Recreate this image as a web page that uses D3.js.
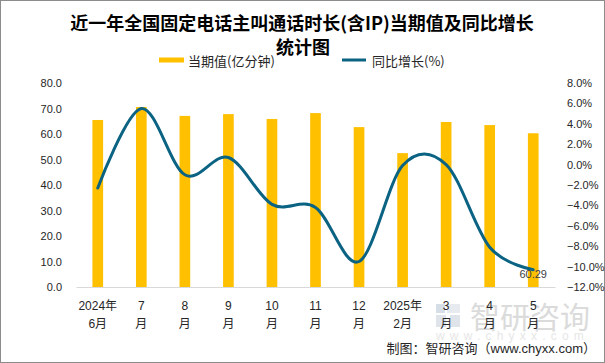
<!DOCTYPE html>
<html>
<head>
<meta charset="utf-8">
<script src="https://cdn.jsdelivr.net/npm/d3@7"></script>
<style>
  body { margin: 0; background: #fff; }
  svg text { font-family: "Liberation Sans", Arial, "Noto Sans CJK SC", sans-serif; }
</style>
</head>
<body>
<div id="chart"></div>
<script>
  const categories = ["2024年6月", "7月", "8月", "9月", "10月", "11月", "12月", "2025年2月", "3月", "4月", "5月"];
  const tickTop = ["2024年", "7", "8", "9", "10", "11", "12", "2025年", "3", "4", "5"];
  const tickBottom = ["6月", "月", "月", "月", "月", "月", "月", "2月", "月", "月", "月"];
  const duration = [65.5, 70.6, 67.1, 67.8, 65.9, 68.2, 62.7, 52.5, 64.7, 63.5, 60.29];
  const growth = [-2.3, 5.5, -1.0, 0.7, -3.9, -4.2, -9.5, -0.1, 0.0, -8.1, -10.3];
  const leftTicks = [0, 10, 20, 30, 40, 50, 60, 70, 80];
  const rightTicks = [-12, -10, -8, -6, -4, -2, 0, 2, 4, 6, 8];

  const width = 605;
  const height = 363;
  const plot = { left: 76, right: 555, top: 83, bottom: 287 };
  const barColor = "#FFC000";
  const lineColor = "#0B6383";

  const svg = d3
    .select("#chart")
    .append("svg")
    .attr("width", width)
    .attr("height", height);

  svg.append("rect")
    .attr("x", 0.5).attr("y", 0.5)
    .attr("width", width - 1).attr("height", height - 1)
    .attr("fill", "#fff")
    .attr("stroke", "#8c8c8c");

  // Title
  svg.append("text")
    .attr("x", 302).attr("y", 22)
    .attr("text-anchor", "middle").attr("dominant-baseline", "central")
    .style("font-family", "'Noto Sans CJK SC', sans-serif")
    .attr("font-size", "18px").attr("font-weight", "bold").attr("fill", "#000")
    .text("近一年全国固定电话主叫通话时长(含IP)当期值及同比增长");
  svg.append("text")
    .attr("x", 303).attr("y", 46)
    .attr("text-anchor", "middle").attr("dominant-baseline", "central")
    .style("font-family", "'Noto Sans CJK SC', sans-serif")
    .attr("font-size", "18px").attr("font-weight", "bold").attr("fill", "#000")
    .text("统计图");

  // Watermark
  const wm = svg.append("g").attr("opacity", 0.75);
  wm.append("rect").attr("x", 436).attr("y", 304).attr("width", 9).attr("height", 9).attr("fill", "#c9d3df");
  wm.append("rect").attr("x", 447).attr("y", 304).attr("width", 13).attr("height", 9).attr("fill", "#dfe4ea");
  wm.append("rect").attr("x", 436).attr("y", 315).attr("width", 24).attr("height", 12).attr("fill", "#d4dbe4");
  wm.append("rect").attr("x", 446).attr("y", 315).attr("width", 4).attr("height", 12).attr("fill", "#fff");
  wm.append("text")
    .attr("x", 470).attr("y", 315)
    .attr("dominant-baseline", "central")
    .style("font-family", "'Noto Sans CJK SC', sans-serif")
    .attr("font-size", "30px").attr("fill", "#cfcfcf")
    .text("智研咨询");
  wm.append("text")
    .attr("x", 436).attr("y", 336)
    .attr("dominant-baseline", "central")
    .attr("font-size", "12px").attr("fill", "#dedede")
    .attr("letter-spacing", "5.2px")
    .text("www.chyxx.com");

  // Scales
  const x = d3
    .scaleBand()
    .domain(categories)
    .range([plot.left, plot.right])
    .paddingInner(0.755)
    .paddingOuter(0.3775);

  const yLeft = d3.scaleLinear().domain([0, 80]).range([plot.bottom, plot.top]);
  const yRight = d3.scaleLinear().domain([-12, 8]).range([plot.bottom, plot.top]);

  // Axes
  const leftAxis = svg.append("g")
    .attr("transform", `translate(${plot.left},0)`)
    .call(d3.axisLeft(yLeft).tickValues(leftTicks).tickSize(0).tickPadding(14).tickFormat(d3.format(".1f")));
  leftAxis.select(".domain").remove();
  leftAxis.selectAll("text").attr("font-size", "11px").attr("fill", "#262626")
    .style("font-family", "'Liberation Sans', Arial, sans-serif");

  const rightAxis = svg.append("g")
    .attr("transform", `translate(${plot.right},0)`)
    .call(d3.axisRight(yRight).tickValues(rightTicks).tickSize(0).tickPadding(12).tickFormat((d) => d3.format(".1f")(d) + "%"));
  rightAxis.select(".domain").remove();
  rightAxis.selectAll("text").attr("font-size", "11px").attr("fill", "#262626")
    .style("font-family", "'Liberation Sans', Arial, sans-serif");

  // Bars
  svg.append("g")
    .selectAll("rect")
    .data(duration)
    .join("rect")
    .attr("x", (d, i) => x(categories[i]))
    .attr("y", (d) => yLeft(d))
    .attr("width", x.bandwidth())
    .attr("height", (d) => yLeft(0) - yLeft(d))
    .attr("fill", barColor);

  // Bottom axis
  const bottomAxis = svg.append("g")
    .attr("transform", `translate(0,${plot.bottom})`)
    .call(d3.axisBottom(x).tickSize(0).tickFormat(""));
  bottomAxis.select(".domain").attr("stroke", "#d9d9d9").attr("stroke-width", 1);
  bottomAxis.selectAll(".tick").each(function (d, i) {
    const t = d3.select(this).append("text")
      .attr("fill", "#262626")
      .attr("font-size", "12px")
      .attr("text-anchor", "middle");
    t.append("tspan").attr("x", 0).attr("y", 23).text(tickTop[i]);
    t.append("tspan").attr("x", 0).attr("y", 41).text(tickBottom[i]);
  });

  // Line
  const line = d3
    .line()
    .x((d, i) => x(categories[i]) + x.bandwidth() / 2)
    .y((d) => yRight(d))
    .curve(d3.curveCardinal.tension(0));

  svg.append("path")
    .datum(growth)
    .attr("d", line)
    .attr("fill", "none")
    .attr("stroke", lineColor)
    .attr("stroke-width", 3)
    .attr("stroke-linecap", "round");

  // Data label on the last bar
  const last = categories.length - 1;
  svg.append("text")
    .attr("x", x(categories[last]) + x.bandwidth() / 2)
    .attr("y", yLeft(0) - 13)
    .attr("text-anchor", "middle")
    .attr("dominant-baseline", "central")
    .attr("font-size", "11px")
    .attr("fill", "#404040")
    .text(d3.format(".2f")(duration[last]));

  // Legend
  const legend = svg.append("g");
  legend.append("rect")
    .attr("x", 159).attr("y", 57.5).attr("width", 25).attr("height", 5)
    .attr("fill", barColor);
  legend.append("text")
    .attr("x", 188).attr("y", 60).attr("dominant-baseline", "central")
    .attr("font-size", "13px").attr("fill", "#262626")
    .style("font-family", "'Noto Sans CJK SC', sans-serif")
    .text("当期值(亿分钟)");
  legend.append("line")
    .attr("x1", 342).attr("x2", 366).attr("y1", 60).attr("y2", 60)
    .attr("stroke", lineColor).attr("stroke-width", 3);
  legend.append("text")
    .attr("x", 372).attr("y", 60).attr("dominant-baseline", "central")
    .attr("font-size", "13px").attr("fill", "#262626")
    .style("font-family", "'Noto Sans CJK SC', sans-serif")
    .text("同比增长(%)");

  // Source
  svg.append("text")
    .attr("x", 596).attr("y", 348)
    .attr("text-anchor", "end").attr("dominant-baseline", "central")
    .attr("font-size", "13px").attr("fill", "#262626")
    .text("制图：智研咨询（www.chyxx.com）");
</script>
</body>
</html>
